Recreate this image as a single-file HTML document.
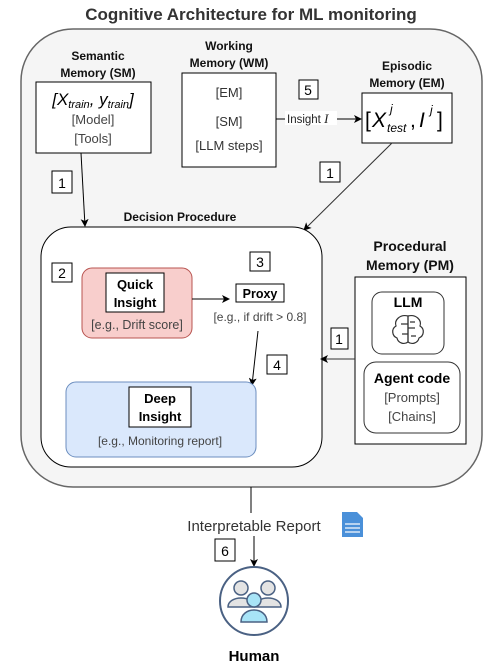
<!DOCTYPE html>
<html><head><style>body{margin:0;background:#fff}svg{display:block}text{font-family:"Liberation Sans",Arial,sans-serif}</style></head><body>
<svg width="501" height="664" viewBox="0 0 501 664" xmlns="http://www.w3.org/2000/svg">
<defs><marker id="a" markerWidth="8" markerHeight="8" refX="7" refY="4" orient="auto" markerUnits="userSpaceOnUse"><path d="M0,0 L8,4 L0,8 L2,4z" fill="#000"/></marker></defs>
<text x="251" y="20" text-anchor="middle" font-size="17" font-weight="bold" fill="#333">Cognitive Architecture for ML monitoring</text>
<rect x="21" y="29" width="461" height="458" rx="52" fill="#f5f5f5" stroke="#666" stroke-width="1.5"/>
<g font-size="12" font-weight="bold" fill="#111" text-anchor="middle">
<text x="98" y="60">Semantic</text><text x="98" y="77">Memory (SM)</text>
<text x="229" y="50">Working</text><text x="229" y="67">Memory (WM)</text>
<text x="407" y="70">Episodic</text><text x="407" y="87">Memory (EM)</text>
<text x="180" y="221">Decision Procedure</text>
<text x="137" y="246">Adaptive Fast</text><text x="137" y="262">Graph (S1)</text>
<text x="160" y="376">Adaptive Slow Graph (S2)</text>
</g>
<rect x="36" y="82" width="115" height="71" fill="#fff" stroke="#000"/>
<text x="93" y="105" text-anchor="middle" font-family="Liberation Serif" font-size="17" font-style="italic">[X<tspan font-size="11" dy="3">train</tspan><tspan dy="-3">, y</tspan><tspan font-size="11" dy="3">train</tspan><tspan dy="-3">]</tspan></text>
<text x="93" y="124" text-anchor="middle" font-size="13" fill="#444">[Model]</text>
<text x="93" y="143" text-anchor="middle" font-size="13" fill="#444">[Tools]</text>
<rect x="182" y="73" width="94" height="94" fill="#fff" stroke="#000"/>
<g font-size="13" fill="#333" text-anchor="middle"><text x="229" y="97">[EM]</text><text x="229" y="126">[SM]</text><text x="229" y="150">[LLM steps]</text></g>
<rect x="362" y="93" width="90" height="50" fill="#fff" stroke="#000"/>
<g font-family="Liberation Serif" font-style="italic">
<text x="365" y="127" font-size="21" font-style="normal">[</text>
<text x="372" y="127" font-size="21">X</text>
<text x="387" y="132" font-size="12">test</text>
<text x="390" y="113" font-size="12">j</text>
<text x="410" y="127" font-size="21" font-style="normal">,</text>
<text x="419" y="127" font-size="21">I</text>
<text x="430" y="114" font-size="12">j</text>
<text x="437" y="127" font-size="21" font-style="normal">]</text>
</g>
<g fill="#fff" stroke="#000"><rect x="299" y="80" width="19" height="19"/><rect x="52" y="171" width="20" height="22"/><rect x="320" y="162" width="20" height="20"/></g>
<g font-size="14" text-anchor="middle"><text x="308" y="95">5</text><text x="62" y="188">1</text><text x="330" y="178">1</text></g>
<line x1="276" y1="119" x2="361" y2="119" stroke="#000" marker-end="url(#a)"/>
<rect x="285" y="111" width="52" height="14" fill="#fff"/>
<text x="287" y="123" font-size="11.5" fill="#222">Insight <tspan font-family="Liberation Serif" font-style="italic" font-size="13">I</tspan></text>
<line x1="81" y1="153" x2="85" y2="226" stroke="#000" marker-end="url(#a)"/>
<line x1="392" y1="143" x2="304" y2="230" stroke="#333" marker-end="url(#a)"/>
<rect x="41" y="227" width="281" height="240" rx="30" fill="#fff" stroke="#000"/>
<rect x="52" y="263" width="20" height="19" fill="#fff" stroke="#000"/><text x="62" y="278" font-size="14" text-anchor="middle">2</text>
<rect x="82" y="268" width="110" height="70" rx="10" fill="#f8cecc" stroke="#b85450"/>
<rect x="106" y="273" width="58" height="39" fill="#fff" stroke="#000"/>
<text x="135" y="289" text-anchor="middle" font-size="13" font-weight="bold">Quick</text><text x="135" y="307" text-anchor="middle" font-size="13" font-weight="bold">Insight</text>
<text x="137" y="329" text-anchor="middle" font-size="12.5" fill="#444">[e.g., Drift score]</text>
<rect x="250" y="252" width="20" height="19" fill="#fff" stroke="#000"/><text x="260" y="267" font-size="14" text-anchor="middle">3</text>
<rect x="236" y="284" width="48" height="18" fill="#fff" stroke="#000"/><text x="260" y="298" text-anchor="middle" font-size="12.5" font-weight="bold">Proxy</text>
<line x1="192" y1="299" x2="229" y2="299" stroke="#000" marker-end="url(#a)"/>
<text x="260" y="321" text-anchor="middle" font-size="12" fill="#444">[e.g., if drift &gt; 0.8]</text>
<line x1="258" y1="331" x2="252" y2="385" stroke="#000" marker-end="url(#a)"/>
<rect x="267" y="355" width="20" height="19" fill="#fff" stroke="#000"/><text x="277" y="370" font-size="14" text-anchor="middle">4</text>
<rect x="66" y="382" width="190" height="75" rx="10" fill="#dae8fc" stroke="#6c8ebf"/>
<rect x="129" y="387" width="62" height="40" fill="#fff" stroke="#000"/>
<text x="160" y="403" text-anchor="middle" font-size="13" font-weight="bold">Deep</text><text x="160" y="421" text-anchor="middle" font-size="13" font-weight="bold">Insight</text>
<text x="160" y="445" text-anchor="middle" font-size="12" fill="#444">[e.g., Monitoring report]</text>
<text x="410" y="251" text-anchor="middle" font-size="14" font-weight="bold" fill="#111">Procedural</text><text x="410" y="270" text-anchor="middle" font-size="14" font-weight="bold" fill="#111">Memory (PM)</text>
<rect x="355" y="277" width="111" height="167" fill="#fff" stroke="#000"/>
<rect x="372" y="292" width="72" height="62" rx="10" fill="#fff" stroke="#333"/>
<text x="408" y="307" text-anchor="middle" font-size="14" font-weight="bold">LLM</text>
<g stroke="#333" fill="none" stroke-width="1.2"><path d="M408,316 c-8,-2 -14,4 -12,10 c-5,3 -4,10 1,12 c1,5 7,7 11,4 z"/><path d="M408,316 c8,-2 14,4 12,10 c5,3 4,10 -1,12 c-1,5 -7,7 -11,4"/><path d="M408,316 v26 M401,324 h7 M402,334 h6 M408,328 h7 M410,322 h5 M411,336 h5"/></g>
<rect x="364" y="362" width="96" height="71" rx="12" fill="#fff" stroke="#333"/>
<text x="412" y="383" text-anchor="middle" font-size="14" font-weight="bold">Agent code</text>
<text x="412" y="402" text-anchor="middle" font-size="13" fill="#444">[Prompts]</text>
<text x="412" y="421" text-anchor="middle" font-size="13" fill="#444">[Chains]</text>
<rect x="331" y="328" width="17" height="21" fill="#fff" stroke="#000"/><text x="339" y="344" font-size="14" text-anchor="middle">1</text>
<line x1="355" y1="359" x2="321" y2="359" stroke="#333" marker-end="url(#a)"/>
<line x1="251" y1="487" x2="251" y2="513" stroke="#000"/>
<text x="254" y="531" text-anchor="middle" font-size="15" fill="#333">Interpretable Report</text>
<path d="M342,512 h15 l6,6 v19 h-21z" fill="#4a90d9"/><g stroke="#fff" stroke-width="1.2"><line x1="345" y1="524" x2="360" y2="524"/><line x1="345" y1="528" x2="360" y2="528"/><line x1="345" y1="532" x2="360" y2="532"/></g>
<line x1="254" y1="536" x2="254" y2="566" stroke="#000" marker-end="url(#a)"/>
<rect x="215" y="539" width="20" height="22" fill="#fff" stroke="#000"/><text x="225" y="556" font-size="14" text-anchor="middle">6</text>
<circle cx="254" cy="601" r="34" fill="#fff" stroke="#4a6183" stroke-width="2"/>
<g stroke="#4a6183" stroke-width="1.5"><circle cx="241" cy="588" r="7" fill="#e3e3e3"/><circle cx="268" cy="588" r="7" fill="#e3e3e3"/>
<path d="M228,607 c0,-12 26,-12 26,0z" fill="#e3e3e3"/><path d="M255,607 c0,-12 26,-12 26,0z" fill="#e3e3e3"/>
<circle cx="254" cy="600" r="7" fill="#a8e4f7"/><path d="M241,622 c0,-16 26,-16 26,0z" fill="#a8e4f7"/></g>
<text x="254" y="661" text-anchor="middle" font-size="15" font-weight="bold">Human</text>
</svg>
</body></html>
